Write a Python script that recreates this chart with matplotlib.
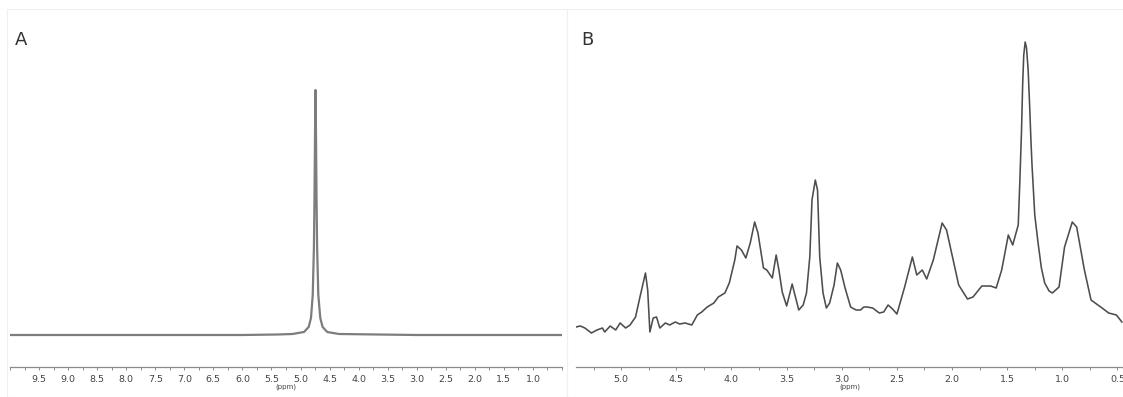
import numpy as np
import matplotlib
matplotlib.use("Agg")
import matplotlib.pyplot as plt
from matplotlib.ticker import MultipleLocator, FormatStrFormatter
from matplotlib.patches import Rectangle

# spectrum A: water signal only (ppm, intensity a.u.)
ppm_a = [10.0, 8.0, 6.0, 5.4, 5.14, 4.94, 4.86, 4.82, 4.79, 4.77, 4.76,
         4.75, 4.742, 4.734, 4.724, 4.714, 4.694, 4.66, 4.62, 4.54, 4.34,
         3.0, 1.0, 0.5]
int_a = [32, 32, 32, 32.5, 33, 35, 40, 49, 72, 118, 166,
         235, 277, 235, 166, 118, 72, 49, 40, 35, 33,
         32, 32, 32]

# spectrum B: metabolite region
ppm_b = [5.41, 5.37, 5.33, 5.27, 5.22, 5.17, 5.15, 5.10, 5.05, 5.01,
         4.96, 4.92, 4.87, 4.83, 4.78, 4.76, 4.74, 4.71, 4.68, 4.65,
         4.60, 4.56, 4.51, 4.47, 4.42, 4.36, 4.31, 4.27, 4.22, 4.16,
         4.12, 4.06, 4.02, 3.97, 3.95, 3.91, 3.87, 3.83, 3.79, 3.76,
         3.71, 3.68, 3.63, 3.595, 3.57, 3.54, 3.50, 3.45, 3.42, 3.39,
         3.35, 3.32, 3.29, 3.27, 3.24, 3.22, 3.20, 3.17, 3.14, 3.11,
         3.07, 3.04, 3.01, 2.97, 2.92, 2.87, 2.83, 2.80, 2.77, 2.72,
         2.66, 2.62, 2.58, 2.54, 2.50, 2.43, 2.36, 2.32, 2.27, 2.23,
         2.17, 2.09, 2.05, 1.99, 1.94, 1.86, 1.81, 1.73, 1.65, 1.60,
         1.55, 1.49, 1.45, 1.40, 1.385, 1.37, 1.36, 1.35, 1.337, 1.325,
         1.31, 1.295, 1.285, 1.275, 1.25, 1.22, 1.19, 1.16, 1.12, 1.09,
         1.03, 0.98, 0.91, 0.87, 0.80, 0.74, 0.64, 0.58, 0.51, 0.46]
int_b = [40, 41, 39, 34, 37, 39, 35, 41, 37, 44,
         39, 42, 50, 70, 94, 77, 35, 49, 50, 39,
         44, 42, 45, 43, 44, 42, 52, 55, 60, 64,
         70, 74, 84, 107, 121, 117, 109, 124, 145, 134,
         99, 97, 89, 112, 97, 75, 61, 83, 70, 57,
         62, 74, 110, 167, 187, 177, 110, 74, 59, 64,
         82, 104, 97, 79, 60, 57, 57, 60, 60, 59,
         54, 55, 62, 58, 53, 80, 110, 92, 97, 88,
         107, 144, 137, 107, 82, 68, 70, 81, 81, 79,
         97, 132, 122, 142, 187, 237, 282, 312, 325, 319,
         297, 257, 227, 202, 152, 124, 99, 84, 76, 74,
         80, 120, 145, 140, 97, 67, 59, 54, 52, 45]

W, H = 1123, 397
fig = plt.figure(figsize=(W / 100, H / 100), dpi=100)

bottom = (H - 367) / H
height = (367 - 30) / H

panels = [
    dict(x0=10, x1=562, xlim=(10.0, 0.5), ppm=ppm_a, inten=int_a,
         color="#7d7d7d", lw=1.6, label="A", majors=np.arange(9.5, 0.99, -0.5)),
    dict(x0=576, x1=1123, xlim=(5.41, 0.45), ppm=ppm_b, inten=int_b,
         color="#4d4d4d", lw=1.15, label="B", majors=np.arange(5.0, 0.49, -0.5)),
]

for p in panels:
    ax = fig.add_axes([p["x0"] / W, bottom, (p["x1"] - p["x0"]) / W, height])
    ax.plot(p["ppm"], p["inten"], color=p["color"], lw=p["lw"],
            solid_joinstyle="round")
    ax.set_xlim(*p["xlim"])
    ax.set_ylim(0, 337)
    for s in ["top", "left", "right"]:
        ax.spines[s].set_visible(False)
    ax.spines["bottom"].set_color("#8c8c8c")
    ax.spines["bottom"].set_linewidth(0.9)
    ax.set_yticks([])
    ax.set_xticks(p["majors"])
    ax.xaxis.set_major_formatter(FormatStrFormatter("%.1f"))
    ax.xaxis.set_minor_locator(MultipleLocator(0.25))
    ax.tick_params(axis="x", which="both", direction="out", length=2,
                   width=0.7, color="#8c8c8c", pad=3.5, labelsize=6.8,
                   labelcolor="#444444")
    ax.set_xlabel("(ppm)", fontsize=5, color="#444444", labelpad=0)
    ax.patch.set_alpha(0)
    fig.text((p["x0"] + 5) / W, 1 - 40 / H, p["label"], fontsize=13,
             color="#333333", va="center", ha="left")

# faint panel frames
for x0, x1 in [(7, 567), (567, 1123)]:
    fig.patches.append(Rectangle((x0 / W, 0), (x1 - x0) / W, 1 - 9 / H,
                                 transform=fig.transFigure, fill=False,
                                 edgecolor="#f0f0f0", lw=0.8))

fig.savefig("out.png", dpi=100)
